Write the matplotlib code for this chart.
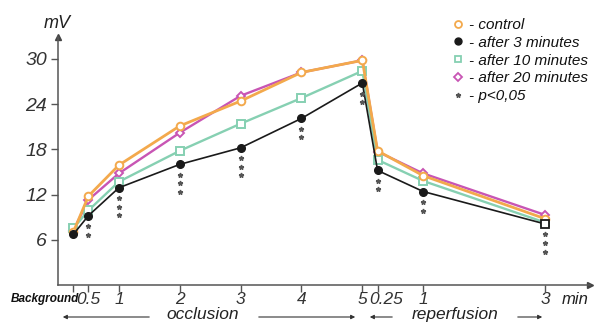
import matplotlib.pyplot as plt
from matplotlib.lines import Line2D
from matplotlib.patches import FancyArrowPatch
import matplotlib.transforms as mtransforms

plt.rcParams['font.family'] = ['Liberation Sans', 'DejaVu Sans']

# x positions: occlusion minutes, then reperfusion minutes shifted by 5
x_pos = [0.25, 0.5, 1, 2, 3, 4, 5, 5.25, 6, 8]
x_labels = ['', '0.5', '1', '2', '3', '4', '5', '0.25', '1', '3']

control = [7.0, 11.8, 15.9, 21.1, 24.4, 28.2, 29.8, 17.8, 14.5, 8.8]
after_3 = [6.7, 9.2, 12.9, 16.0, 18.2, 22.1, 26.8, 15.2, 12.4, 8.1]
after_10 = [7.5, 9.9, 13.7, 17.8, 21.4, 24.8, 28.4, 16.6, 13.8, 8.3]
after_20 = [7.2, 11.3, 14.8, 20.2, 25.1, 28.2, 29.8, 17.7, 14.8, 9.3]
n_stars = [0, 2, 3, 3, 3, 2, 2, 2, 2, 3]

c_orange = '#f3a94c'
c_black = '#1a1a1a'
c_green = '#86d0b2'
c_purple = '#c855b4'

fig = plt.figure(figsize=(5.95, 3.23), dpi=100)
ax = fig.add_axes([58/595, 1-285/323, 532/595, 248/323])
ax.set_xlim(0, 8.74)
ax.set_ylim(0, 32.9)

ms = 5.5
ax.plot(x_pos, after_20, color=c_purple, lw=1.7, marker='D', ms=ms-1, mfc='white', mec=c_purple, mew=1.4, zorder=3)
ax.plot(x_pos, after_10, color=c_green, lw=1.7, marker='s', ms=ms, mfc='white', mec=c_green, mew=1.4, zorder=4)
ax.plot(x_pos, control, color=c_orange, lw=2.0, marker='o', ms=ms, mfc='white', mec=c_orange, mew=1.4, zorder=5)
ax.plot(x_pos[:-1], after_3[:-1], color=c_black, lw=1.2, marker='o', ms=ms, mfc=c_black, mec=c_black, zorder=6)
ax.plot(x_pos[-2:], after_3[-2:], color=c_black, lw=1.2, marker='s', ms=ms, mfc='white', mec=c_black, mew=1.3,
        markevery=[1], zorder=6)

# significance stars under the "after 3 minutes" points
for x, y, n in zip(x_pos, after_3, n_stars):
    for k in range(n):
        ax.plot(x, y - 1.4 - 1.13*k, marker='*', ms=3.5, color='#555555', ls='none', zorder=6)

for s in ['top', 'right']:
    ax.spines[s].set_visible(False)
for s in ['left', 'bottom']:
    ax.spines[s].set_color('#555555')
    ax.spines[s].set_linewidth(1.1)
ax.plot(0, 1, marker='^', ms=4, color='#444444', transform=ax.transAxes, clip_on=False)
ax.plot(1, 0, marker='>', ms=4, color='#444444', transform=ax.transAxes, clip_on=False)

ax.set_yticks([6, 12, 18, 24, 30])
ax.set_yticklabels(['6', '12', '18', '24', '30'], fontsize=14, style='italic')
ax.set_xticks(x_pos)
ax.set_xticklabels(x_labels, fontsize=12.5, style='italic')
ax.tick_params(axis='both', colors='#555555', length=5, width=1, labelcolor='#333333')
ax.tick_params(axis='x', pad=0)
ax.tick_params(axis='y', pad=3)
# nudge the crowded reperfusion 0.25 label to the right
lab = ax.get_xticklabels()[7]
lab.set_transform(lab.get_transform() + mtransforms.ScaledTranslation(9/100, 0, fig.dpi_scale_trans))

fig.text(79/595, 1-299/323, 'Background', fontsize=8.5, style='italic', weight='bold',
         ha='right', va='center', color='#111111')
fig.text(575/595, 1-299/323, 'min', fontsize=12, style='italic', ha='center', va='center', color='#222222')
fig.text(57/595, 1-24/323, 'mV', fontsize=13, style='italic', ha='center', va='center', color='#222222')

# occlusion / reperfusion spans
yb = 323 - 317
fig.text(203/595, 4/323, 'occlusion', fontsize=12.5, style='italic', ha='center', va='baseline', color='#222222')
fig.text(455/595, 4/323, 'reperfusion', fontsize=12.5, style='italic', ha='center', va='baseline', color='#222222')
arrow_kw = dict(arrowstyle='-|>', lw=0.8, color='#333333', mutation_scale=6)
for x0, x1 in [(152, 60), (256, 358), (395, 367), (515, 545)]:
    fig.add_artist(FancyArrowPatch((x0/595, yb/323), (x1/595, yb/323), transform=fig.transFigure, **arrow_kw))

handles = [
    Line2D([], [], ls='none', marker='o', ms=5, mfc='white', mec=c_orange, mew=1.3),
    Line2D([], [], ls='none', marker='o', ms=5, mfc=c_black, mec=c_black),
    Line2D([], [], ls='none', marker='s', ms=5, mfc='white', mec=c_green, mew=1.3),
    Line2D([], [], ls='none', marker='D', ms=4.5, mfc='white', mec=c_purple, mew=1.3),
    Line2D([], [], ls='none', marker='*', ms=3.5, color='#555555'),
]
labels = ['- control', '- after 3 minutes', '- after 10 minutes', '- after 20 minutes', '- p<0,05']
leg = fig.legend(handles, labels, loc='upper left', bbox_to_anchor=(452/595, 1-18/323),
                 frameon=False, handlelength=0.8, handletextpad=0.3, labelspacing=0.25,
                 prop={'size': 11, 'style': 'italic'}, borderaxespad=0, borderpad=0)
for t in leg.get_texts():
    t.set_color('#111111')

fig.savefig('out.png', dpi=100)
